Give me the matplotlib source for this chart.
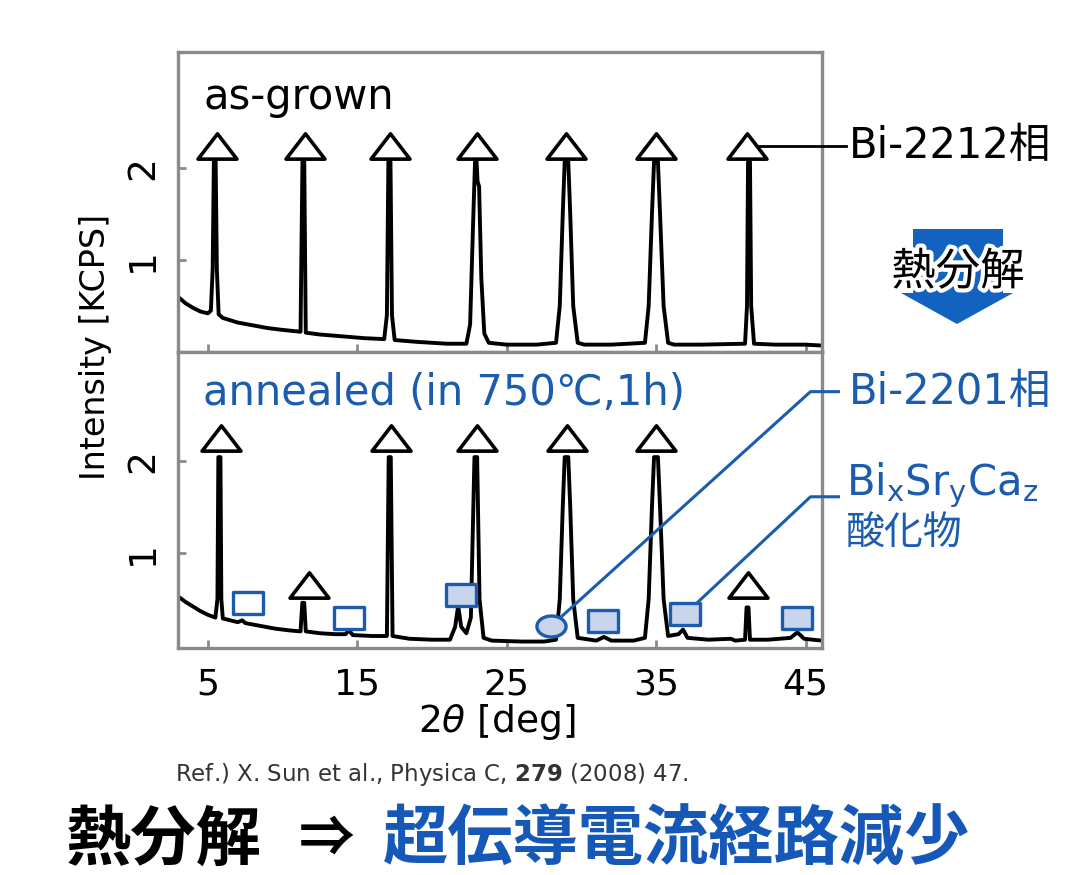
import matplotlib
matplotlib.use("Agg")
import matplotlib.pyplot as plt
import matplotlib.patheffects as pe
from matplotlib.path import Path
from matplotlib.patches import Polygon

plt.rcParams['font.family'] = ['DejaVu Sans', 'Noto Sans CJK JP']
plt.rcParams['mathtext.fontset'] = 'dejavusans'

# XRD pattern of the as-grown crystal: 2theta [deg], intensity [KCPS]
grown_2theta = [3.0, 3.5, 4.0, 4.5, 5.0, 5.2, 5.32, 5.4, 5.52, 5.6, 5.72, 6.0, 7.0, 8.0,
                9.0, 10.0, 11.2, 11.33, 11.45, 11.55, 12.5, 14.0, 15.5, 16.8, 16.98,
                17.08, 17.22, 17.32, 17.5, 19.0, 21.0, 22.3, 22.55, 22.75, 22.88, 22.98,
                23.05, 23.15, 23.3, 23.5, 23.8, 25.0, 27.0, 28.3, 28.55, 28.75, 28.88,
                29.12, 29.25, 29.45, 29.75, 30.2, 32.0, 34.25, 34.5, 34.72, 34.86, 35.12,
                35.26, 35.5, 35.8, 36.2, 38.0, 40.95, 41.08, 41.15, 41.28, 41.36, 41.55,
                43.0, 45.0, 46.1]
grown_counts = [0.60, 0.53, 0.48, 0.44, 0.42, 0.45, 0.9, 2.07, 2.07, 0.9, 0.41, 0.37,
                0.32, 0.29, 0.26, 0.24, 0.22, 2.07, 2.07, 0.21, 0.19, 0.17, 0.15, 0.14,
                0.4, 2.07, 2.07, 0.4, 0.13, 0.11, 0.09, 0.09, 0.3, 1.4, 2.07, 2.07,
                1.85, 1.8, 0.8, 0.2, 0.1, 0.08, 0.08, 0.1, 0.5, 1.5, 2.07, 2.07, 1.5,
                0.5, 0.1, 0.08, 0.08, 0.1, 0.5, 1.5, 2.07, 2.07, 1.5, 0.5, 0.1, 0.08,
                0.08, 0.09, 0.5, 2.07, 2.07, 0.5, 0.09, 0.08, 0.08, 0.07]

# XRD pattern after annealing at 750 C for 1 h
annealed_2theta = [3.0, 3.5, 4.0, 4.5, 5.0, 5.5, 5.64, 5.7, 5.84, 5.9, 6.0, 6.5, 7.0,
                   7.3, 7.5, 8.5, 9.5, 10.5, 11.2, 11.32, 11.45, 11.55, 12.5, 13.5,
                   14.2, 14.45, 14.7, 16.0, 16.98, 17.1, 17.24, 17.36, 18.5, 20.0,
                   21.2, 21.55, 21.75, 21.95, 22.3, 22.6, 22.84, 23.02, 23.18, 23.45,
                   24.0, 26.0, 27.5, 28.3, 28.55, 28.75, 28.88, 29.12, 29.25, 29.45,
                   29.75, 31.0, 31.5, 32.0, 33.5, 34.25, 34.5, 34.72, 34.86, 35.12,
                   35.26, 35.5, 35.8, 36.5, 36.8, 37.1, 38.5, 40.0, 40.3, 40.95, 41.05,
                   41.18, 41.28, 42.5, 44.0, 44.45, 44.9, 46.1]
annealed_counts = [0.53, 0.47, 0.42, 0.37, 0.33, 0.30, 0.5, 2.04, 2.04, 0.5, 0.29, 0.27,
                   0.25, 0.27, 0.24, 0.21, 0.18, 0.16, 0.15, 0.46, 0.46, 0.15, 0.13,
                   0.12, 0.12, 0.16, 0.11, 0.10, 0.10, 2.04, 2.04, 0.10, 0.07, 0.06,
                   0.06, 0.2, 0.43, 0.2, 0.13, 0.3, 2.04, 2.04, 0.5, 0.08, 0.05, 0.04,
                   0.04, 0.06, 0.5, 1.5, 2.04, 2.04, 1.5, 0.5, 0.08, 0.05, 0.09, 0.05,
                   0.05, 0.08, 0.5, 1.5, 2.04, 2.04, 1.5, 0.5, 0.1, 0.12, 0.17, 0.08,
                   0.06, 0.07, 0.05, 0.06, 0.41, 0.41, 0.06, 0.06, 0.08, 0.14, 0.07,
                   0.05]

# phase markers: Bi-2212 (triangles), Bi-2201 (circle), BiSrCa oxides (squares)
grown_2212_x = [5.6, 11.5, 17.2, 23.0, 29.0, 35.0, 41.1]
grown_2212_y = [2.24, 2.24, 2.24, 2.24, 2.24, 2.24, 2.24]
annealed_2212_x = [5.9, 17.25, 23.0, 29.05, 35.0, 11.75, 41.15]
annealed_2212_y = [2.25, 2.25, 2.25, 2.25, 2.25, 0.65, 0.65]
oxide_open_x = [7.7, 14.45]
oxide_open_y = [0.46, 0.30]
oxide_fill_x = [21.95, 31.45, 36.95, 44.45]
oxide_fill_y = [0.55, 0.26, 0.34, 0.30]
bi2201_x = [27.98]
bi2201_y = [0.21]

x_ticks = [5, 15, 25, 35, 45]
y_ticks = [1, 2]

BLUE = '#1b5cae'
LIGHT = '#c9d5ec'
FRAME = '#8a8a8a'
W, H = 1073, 875

tri_marker = Path([(-1, -0.65), (1, -0.65), (0, 0.65), (0, 0)],
                  [Path.MOVETO, Path.LINETO, Path.LINETO, Path.CLOSEPOLY])
box_marker = Path([(-1, -0.7), (1, -0.7), (1, 0.7), (-1, 0.7), (0, 0)],
                  [Path.MOVETO, Path.LINETO, Path.LINETO, Path.LINETO, Path.CLOSEPOLY])
circ = Path.unit_circle()
oval_marker = Path(circ.vertices * [1, 0.72], circ.codes)

fig = plt.figure(figsize=(W / 100, H / 100), dpi=100)
ax1 = fig.add_axes([178 / W, 1 - 352 / H, 644 / W, 300 / H])
ax2 = fig.add_axes([178 / W, 1 - 648 / H, 644 / W, 296 / H])

for ax in (ax1, ax2):
    ax.set_xlim(3.0, 46.1)
    ax.set_xticks(x_ticks)
    ax.set_yticks(y_ticks)
    for s in ax.spines.values():
        s.set_color(FRAME)
        s.set_linewidth(2.4)
    ax.tick_params(direction='in', length=6, width=2, color=FRAME,
                   labelsize=27, pad=12)
    ax.tick_params(axis='y', labelrotation=90)
    for lab in ax.get_yticklabels():
        lab.set_va('center')

ax1.set_ylim(0, 3.26)
ax2.set_ylim(-0.03, 3.18)
ax1.tick_params(axis='x', labelbottom=False)
ax2.tick_params(axis='x', labelsize=26, pad=14)

trace_style = dict(color='black', lw=2.8, zorder=2, solid_joinstyle='round')
ax1.plot(grown_2theta, grown_counts, **trace_style)
ax2.plot(annealed_2theta, annealed_counts, **trace_style)

tri_style = dict(ls='none', marker=tri_marker, ms=28, mfc='white', mec='black',
                 mew=2.6, zorder=5, clip_on=False)
ax1.plot(grown_2212_x, grown_2212_y, **tri_style)
ax2.plot(annealed_2212_x, annealed_2212_y, **tri_style)
ax2.plot(oxide_open_x, oxide_open_y, ls='none', marker=box_marker, ms=22,
         mfc='white', mec=BLUE, mew=2.4, zorder=5)
ax2.plot(oxide_fill_x, oxide_fill_y, ls='none', marker=box_marker, ms=22,
         mfc=LIGHT, mec=BLUE, mew=2.4, zorder=5)
ax2.plot(bi2201_x, bi2201_y, ls='none', marker=oval_marker, ms=21,
         mfc=LIGHT, mec=BLUE, mew=2.4, zorder=5)

# leader lines to the phase labels on the right
ax1.plot([grown_2212_x[-1], 47.7], [grown_2212_y[-1]] * 2, color='black',
         lw=2, zorder=4, clip_on=False)
ax2.plot([bi2201_x[0], 45.33, 47.2], [bi2201_y[0], 2.75, 2.75], color=BLUE,
         lw=2.2, zorder=4, clip_on=False)
ax2.plot([oxide_fill_x[2], 45.33, 47.2], [oxide_fill_y[2], 1.61, 1.61], color=BLUE,
         lw=2.2, zorder=4, clip_on=False)

ax1.text(47.9, 2.24, 'Bi-2212相', fontsize=30, va='center', ha='left')
ax2.text(47.9, 2.75, 'Bi-2201相', fontsize=30, va='center', ha='left', color=BLUE)
ax2.text(47.7, 1.74, r'Bi$_\mathregular{x}$Sr$_\mathregular{y}$Ca$_\mathregular{z}$',
         fontsize=30, va='center', ha='left', color=BLUE)
ax2.text(47.7, 1.22, '酸化物', fontsize=28, va='center', ha='left', color=BLUE)

ax1.text(4.7, 2.77, 'as-grown', fontsize=30, va='center', ha='left')
ax2.text(4.7, 2.74, 'annealed (in 750℃,1h)', fontsize=30, va='center', ha='left',
         color=BLUE)

fig.text(95 / W, 1 - 347 / H, 'Intensity [KCPS]', rotation=90, fontsize=24,
         ha='center', va='center')
fig.text(497 / W, 1 - 722 / H, r'2$\theta$ [deg]', fontsize=27,
         ha='center', va='center')
fig.text(175 / W, 1 - 775 / H,
         r'Ref.) X. Sun et al., Physica C, $\mathbf{279}$ (2008) 47.',
         fontsize=16.5, color='#333333', ha='left', va='center')

# block arrow with the "thermal decomposition" caption
arrow_px = [(913, 229), (1003, 229), (1003, 293), (1013, 293), (957, 324),
            (901, 293), (913, 293)]
fig.patches.append(Polygon([(x / W, 1 - y / H) for x, y in arrow_px], closed=True,
                           transform=fig.transFigure, facecolor='#1462bf',
                           edgecolor='none', zorder=1))
fig.text(958 / W, 1 - 272 / H, '熱分解', fontsize=32, ha='center', va='center',
         family='Noto Sans CJK JP', zorder=3,
         path_effects=[pe.withStroke(linewidth=6, foreground='white')])

# closing statement below the chart
fig.text(66 / W, 1 - 840 / H, '熱分解', fontsize=47, fontweight='bold',
         family='Noto Sans CJK JP', ha='left', va='center')
fig.text(327 / W, 1 - 840 / H, '⇒', fontsize=40, fontweight='bold',
         family='Noto Sans CJK JP', ha='center', va='center')
fig.text(383 / W, 1 - 840 / H, '超伝導電流経路減少', fontsize=47, fontweight='bold',
         family='Noto Sans CJK JP', color='#1558b8', ha='left', va='center')

fig.savefig('out.png', dpi=100)
